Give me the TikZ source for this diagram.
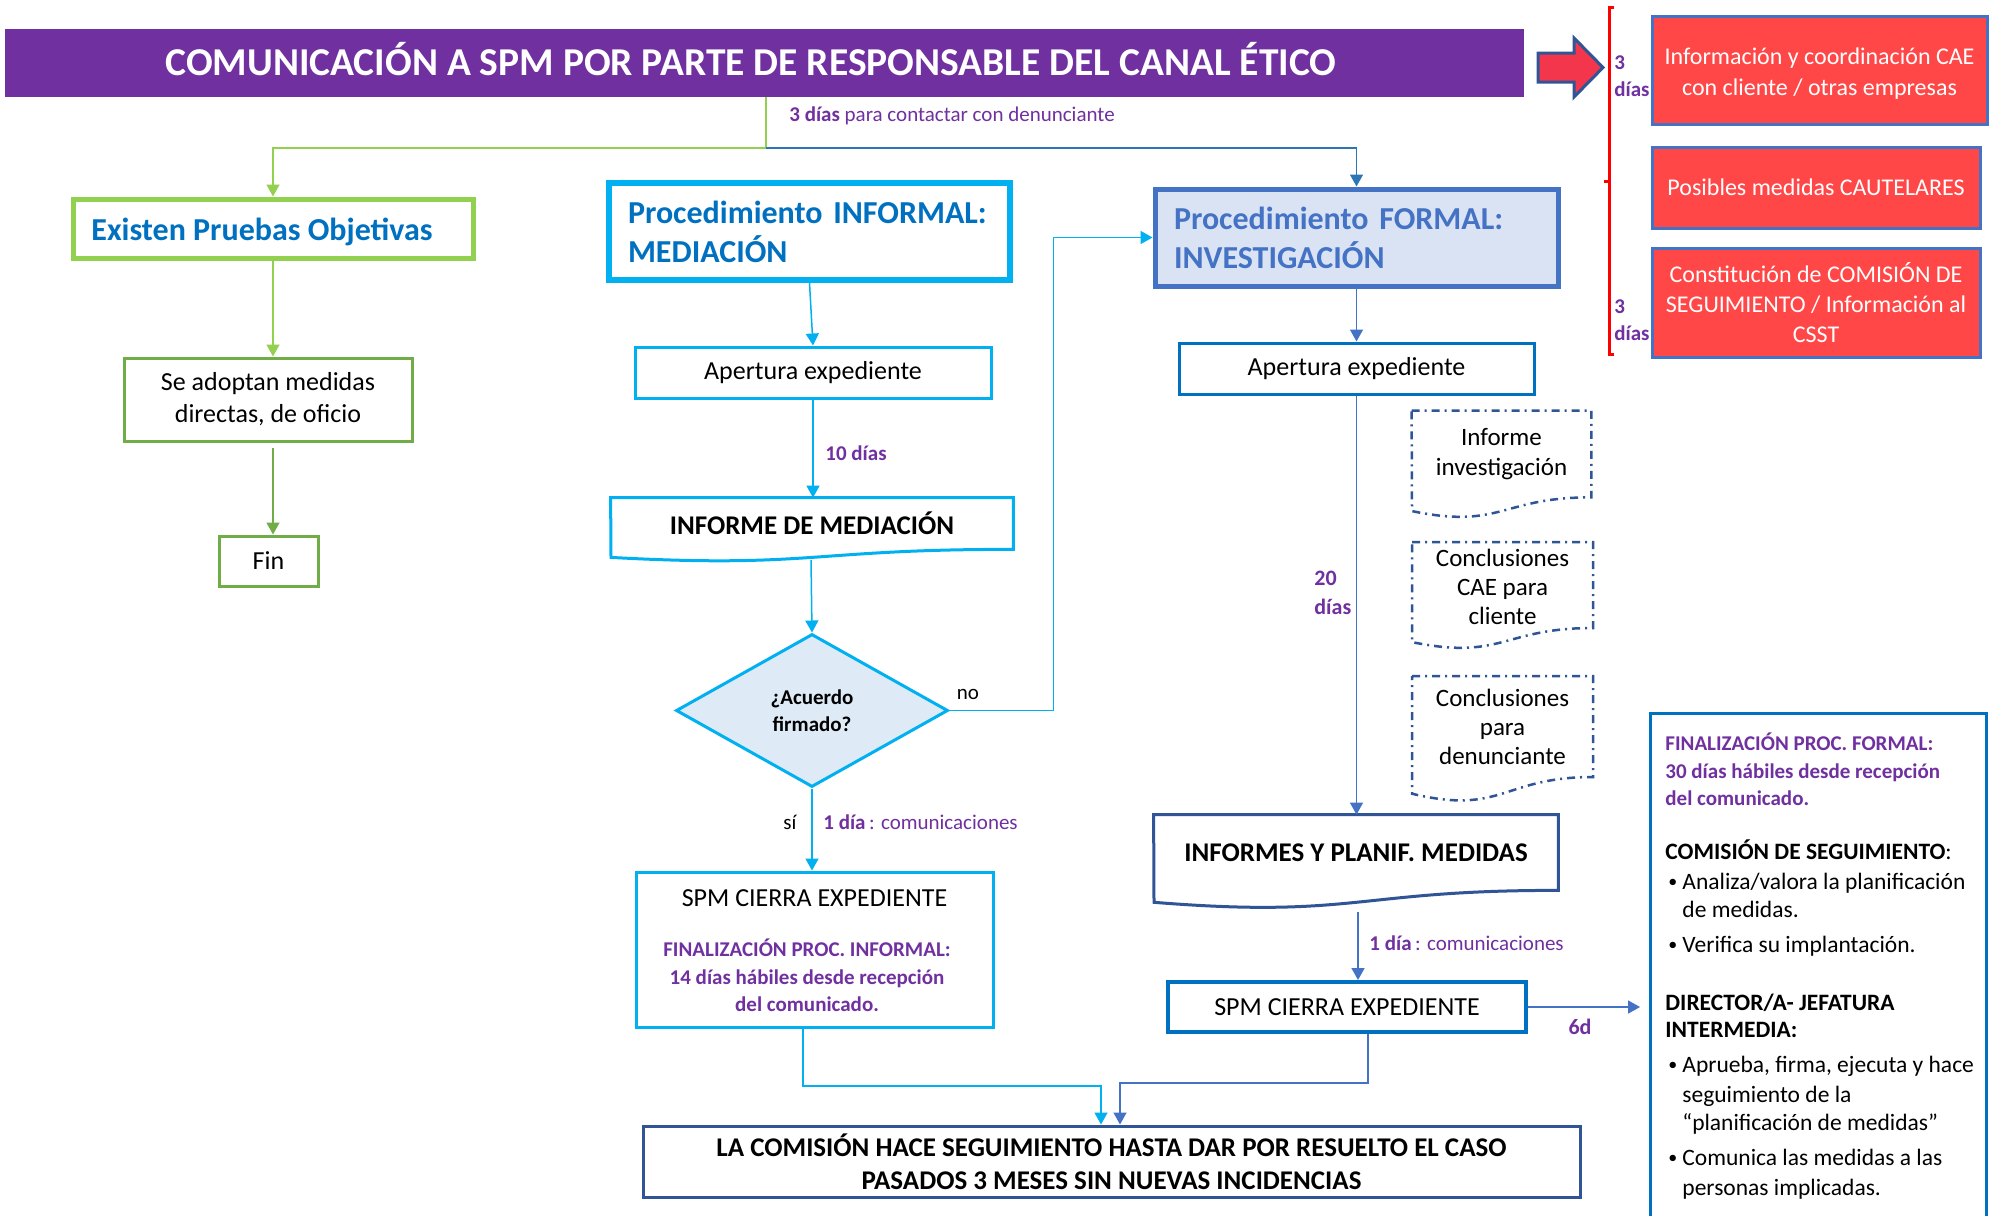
\documentclass[tikz,border=0pt]{standalone}
\usepackage{fontspec}
\setmainfont{Carlito}
\usetikzlibrary{arrows.meta,shapes.geometric,calc}
\definecolor{purp}{HTML}{7030A0}
\definecolor{lgreen}{HTML}{92D050}
\definecolor{dgreen}{HTML}{70AD47}
\definecolor{cyanb}{HTML}{00B0F0}
\definecolor{textblue}{HTML}{0070C0}
\definecolor{midblue}{HTML}{4472C4}
\definecolor{darkblue}{HTML}{2F5597}
\definecolor{topblue}{HTML}{2E75B6}
\definecolor{redfill}{HTML}{FF4747}
\definecolor{redarrow}{HTML}{F4364C}
\definecolor{formalfill}{HTML}{DAE3F3}
\definecolor{diafill}{HTML}{DEEBF7}
\newcommand{\fsz}[2]{\fontsize{#1}{#2}\selectfont}
\newcommand{\bul}{\makebox[7pt][l]{\raisebox{0.6pt}{\fsz{9}{10}•}}}
\tikzset{
  conn/.style={line width=0.75pt,-{Triangle[width=6.5pt,length=6pt]}},
  plainline/.style={line width=0.75pt},
  boxn/.style={draw, rectangle, inner sep=0pt, align=center},
  lab/.style={text=purp, inner sep=0pt},
  ln/.style={anchor=base west, inner sep=0pt},
  docline/.style={draw=darkblue, line width=1.25pt, dash pattern=on 4pt off 2.5pt on 1pt off 2.5pt},
}
\begin{document}
\begin{tikzpicture}[x=0.5pt,y=-0.5pt]
\useasboundingbox (0,0) rectangle (2000,1215);
\fill[white] (0,0) rectangle (2000,1215);
\clip (0,0) rectangle (2000,1215);

% ---------- title ----------
\node[fill=purp, minimum width=759.5pt, minimum height=34pt, inner sep=0pt] (title) at (764.5,63) {};
\node[inner sep=0pt, text=white, font=\fsz{19.75}{24}\bfseries] (titletxt) at (751,59) {COMUNICACIÓN A SPM POR PARTE DE RESPONSABLE DEL CANAL ÉTICO};

% red block arrow
\draw[fill=redarrow, draw=darkblue, line width=1.5pt, line join=miter] (1538,53) -- (1574,53) -- (1574,38) -- (1603,67.5) -- (1574,97) -- (1574,82) -- (1538,82) -- cycle;

% bracket
\draw[red, line width=1.5pt] (1614,7) -- (1609,7) -- (1609,354) -- (1614,354);
\draw[red, line width=1.5pt] (1609,181) -- (1604,181);

% red boxes
\node[boxn, draw=midblue, fill=redfill, line width=1.5pt, minimum width=167.5pt, minimum height=54pt] (red1) at (1819.5,70) {};
\node[inner sep=0pt, align=center, text=white, font=\fsz{12}{15.5}] (red1t) at (1819.5,74) {Información y coordinación CAE\\con cliente / otras empresas};
\node[boxn, draw=midblue, fill=redfill, line width=1.5pt, text=white, minimum width=164pt, minimum height=40.5pt, font=\fsz{12}{15}] (red2) at (1816,187.5) {Posibles medidas CAUTELARES};
\node[boxn, draw=midblue, fill=redfill, line width=1.5pt, text=white, minimum width=164pt, minimum height=54.5pt, font=\fsz{12}{15}] (red3) at (1816,302.5) {Constitución de COMISIÓN DE\\SEGUIMIENTO / Información al\\CSST};
\node[lab, anchor=west, align=left, font=\fsz{10.5}{13.5}\bfseries] (d1) at (1614,76) {3\\días};
\node[lab, anchor=west, align=left, font=\fsz{10.5}{13.5}\bfseries] (d2) at (1614,320) {3\\días};

% ---------- top level boxes ----------
\node[boxn, draw=lgreen, line width=2.5pt, minimum width=200pt, minimum height=29.5pt] (existen) at (273,228.5) {};
\node[anchor=west, inner sep=0pt, text=textblue, font=\fsz{16}{19}\bfseries] (existent) at (91,232) {Existen Pruebas Objetivas};
\node[boxn, draw=cyanb, line width=3pt, text=textblue, font=\fsz{16}{19.5}\bfseries, text width=181.5pt, inner xsep=9.5pt, minimum height=48.5pt, align=left] (informal) at (809.5,231.5) {Procedimiento INFORMAL:\\MEDIACIÓN};
\node[boxn, draw=midblue, fill=formalfill, line width=2.5pt, text=midblue, font=\fsz{16}{19.5}\bfseries, text width=182.5pt, inner xsep=9.5pt, minimum height=48.5pt, align=left] (formal) at (1356.5,237.5) {Procedimiento FORMAL:\\INVESTIGACIÓN};

\coordinate (j) at (766,148);
\draw[lgreen, plainline] (title.south -| j) -- (j);
\draw[lgreen, conn] (j) -| (existen.north);
\draw[topblue, conn] (j) -| (formal.north);
\node[lab, anchor=west, font=\fsz{10.5}{12}] (lab3) at (789,116) {\textbf{3 días} para contactar con denunciante};

% ---------- left column ----------
\node[boxn, draw=dgreen, line width=1.5pt, minimum width=144pt, minimum height=41.5pt, font=\fsz{13}{16}] (se) at (268,399.5) {Se adoptan medidas\\directas, de oficio};
\node[boxn, draw=dgreen, line width=1.5pt, minimum width=49.5pt, minimum height=25pt, font=\fsz{13}{16}] (fin) at (268.5,561) {Fin};
\draw[lgreen, conn] (existen.south) -- (existen.south |- se.north);
\draw[dgreen, conn] ([yshift=-2.5pt]existen.south |- se.south) -- (existen.south |- fin.north);

% ---------- informal column ----------
\node[boxn, draw=cyanb, line width=1.5pt, minimum width=178pt, minimum height=25.5pt, font=\fsz{13}{16}] (aper1) at (813,372.5) {Apertura expediente};
\draw[cyanb, conn] (informal.south) -- (aper1.north);

\node[inner sep=0pt, minimum width=201pt, minimum height=25.5pt, font=\fsz{13.5}{16}\bfseries] (infmed) at (812,523.5) {INFORME DE MEDIACIÓN};
\draw[cyanb, line width=1.5pt] (infmed.north west) -- (infmed.north east) -- (infmed.south east) .. controls (812,549) and (812,568.4) .. (611,557.4) -- cycle;
\draw[cyanb, conn] (aper1.south) -- (aper1.south |- infmed.north);
\node[lab, anchor=west, font=\fsz{10.5}{12}\bfseries] (d10) at (825,453) {10 días};

\coordinate (infmedb) at (811,560);
\node[diamond, draw=cyanb, fill=diafill, line width=1.5pt, minimum width=136pt, minimum height=76.5pt, inner sep=0pt, align=center, font=\fsz{10.5}{13.5}\bfseries] (dia) at (812,710.5) {¿Acuerdo\\firmado?};
\draw[cyanb, conn] (infmedb) -- (dia.north);
\draw[cyanb, conn] (dia.east) -- ++(104,0) |- (formal.west);
\node[inner sep=0pt, font=\fsz{10.5}{12}] (no) at (968,694) {no};

\node[boxn, draw=cyanb, line width=1.5pt, minimum width=178.5pt, minimum height=77.5pt] (spm1) at (814.5,949.5) {};
\node[inner sep=0pt, font=\fsz{13}{16}] (spm1t) at (814.5,898) {SPM CIERRA EXPEDIENTE};
\node[lab, align=center, font=\fsz{10.5}{13.75}\bfseries] (spm1p) at (807,975.5) {FINALIZACIÓN PROC. INFORMAL:\\14 días hábiles desde recepción\\del comunicado.};
\draw[cyanb, conn] (dia.south) -- (dia.south |- spm1.north);
\node[inner sep=0pt, font=\fsz{10.5}{12}] (si) at (790,822) {sí};
\node[lab, anchor=west, font=\fsz{10.5}{12}] (c1) at (823,822) {\textbf{1 día}\,: comunicaciones};

% ---------- formal column ----------
\node[boxn, draw=textblue, line width=1.5pt, minimum width=177.5pt, minimum height=25.5pt, font=\fsz{13}{16}] (aper2) at (1356.5,368.5) {Apertura expediente};
\draw[midblue, conn] (formal.south) -- (aper2.north);

\node[inner sep=0pt, minimum width=202pt, minimum height=37.5pt, font=\fsz{13.5}{16}\bfseries] (infpl) at (1356,852.5) {INFORMES Y PLANIF. MEDIDAS};
\draw[darkblue, line width=1.5pt] (infpl.north west) -- (infpl.north east) -- (infpl.south east) .. controls (1356,890) and (1356,918.6) .. (1154,902.3) -- cycle;
\draw[midblue, conn] (aper2.south) -- (aper2.south |- infpl.north);
\node[lab, anchor=west, align=left, font=\fsz{11}{14.5}\bfseries] (d20) at (1314,592.5) {20\\días};

% dashed documents
\node[inner sep=0pt, minimum width=89.5pt, minimum height=43pt, align=center, font=\fsz{12.5}{15}] (doc1) at (1501.5,454) {Informe\\investigación};
\draw[docline] (doc1.north west) -- (doc1.north east) -- (doc1.south east) .. controls (1501.5,497) and (1501.5,529.7) .. (1412,511.1) -- cycle;
\node[inner sep=0pt, minimum width=90.5pt, minimum height=43pt, align=center, font=\fsz{12.5}{14.5}] (doc2) at (1502.5,587) {Conclusiones\\CAE para\\cliente};
\draw[docline] (1412,542) -- (1593,542) -- (1593,628) .. controls (1502.5,628) and (1502.5,660.7) .. (1412,642.1) -- cycle;
\node[inner sep=0pt, minimum width=90.5pt, minimum height=50.5pt, align=center, font=\fsz{12.5}{14.5}] (doc3) at (1502.5,727) {Conclusiones\\para\\denunciante};
\draw[docline] (1412,676) -- (1593,676) -- (1593,777) .. controls (1502.5,777) and (1502.5,815.5) .. (1412,793.7) -- cycle;

\coordinate (infplb) at (1358,912);
\node[boxn, draw=textblue, line width=2pt, minimum width=179pt, minimum height=25pt, font=\fsz{13}{16}] (spm2) at (1347,1007) {SPM CIERRA EXPEDIENTE};
\draw[midblue, conn] (infplb) -- (infplb |- spm2.north);
\node[lab, anchor=west, font=\fsz{10.5}{12}] (c2) at (1369,943) {\textbf{1 día}\,: comunicaciones};

% info box
\node[draw=textblue, line width=1.5pt, minimum width=168pt, minimum height=259pt, inner sep=0pt, anchor=north west] (info) at (1649,712) {};
\draw[midblue, conn, shorten >=4.5pt] (spm2.east) -- (spm2.east -| info.west);
\node[lab, font=\fsz{11}{13}\bfseries] (d6) at (1580,1027) {6d};

\node[ln, text=purp, font=\fsz{10.5}{12}\bfseries] (i1) at (1665,750) {FINALIZACIÓN PROC. FORMAL:};
\node[ln, text=purp, font=\fsz{10.5}{12}\bfseries] (i2) at (1665,778) {30 días hábiles desde recepción};
\node[ln, text=purp, font=\fsz{10.5}{12}\bfseries] (i3) at (1665,805) {del comunicado.};
\node[ln, font=\fsz{11.75}{14}] (i4) at (1665,859) {\textbf{COMISIÓN DE SEGUIMIENTO}:};
\node[ln, font=\fsz{11.75}{14}] (i5) at (1668,889) {\bul Analiza/valora la planificación};
\node[ln, font=\fsz{11.75}{14}] (i6) at (1682,917) {de medidas.};
\node[ln, font=\fsz{11.75}{14}] (i7) at (1668,952) {\bul Verifica su implantación.};
\node[ln, font=\fsz{11.75}{14}\bfseries] (i8) at (1665,1010) {DIRECTOR/A- JEFATURA};
\node[ln, font=\fsz{11.75}{14}\bfseries] (i9) at (1665,1037) {INTERMEDIA:};
\node[ln, font=\fsz{11.75}{14}] (i10) at (1668,1072) {\bul Aprueba, firma, ejecuta y hace};
\node[ln, font=\fsz{11.75}{14}] (i11) at (1682,1102) {seguimiento de la};
\node[ln, font=\fsz{11.75}{14}] (i12) at (1682,1130) {“planificación de medidas”};
\node[ln, font=\fsz{11.75}{14}] (i13) at (1668,1165) {\bul Comunica las medidas a las};
\node[ln, font=\fsz{11.75}{14}] (i14) at (1682,1195) {personas implicadas.};

% ---------- final box ----------
\node[boxn, draw=darkblue, line width=1.5pt, minimum width=468.5pt, minimum height=35.5pt, font=\fsz{13.5}{16.5}\bfseries] (final) at (1111.5,1161.5) {LA COMISIÓN HACE SEGUIMIENTO HASTA DAR POR RESUELTO EL CASO\\PASADOS 3 MESES SIN NUEVAS INCIDENCIAS};
\coordinate (m1) at (1101,1086);
\coordinate (m2) at (1120,1083);
\draw[cyanb, conn] ([xshift=-5.75pt]spm1.south) |- (m1) -- (m1 |- final.north);
\draw[midblue, conn] ([xshift=10.5pt]spm2.south) |- (m2) -- (m2 |- final.north);
\end{tikzpicture}
\end{document}
